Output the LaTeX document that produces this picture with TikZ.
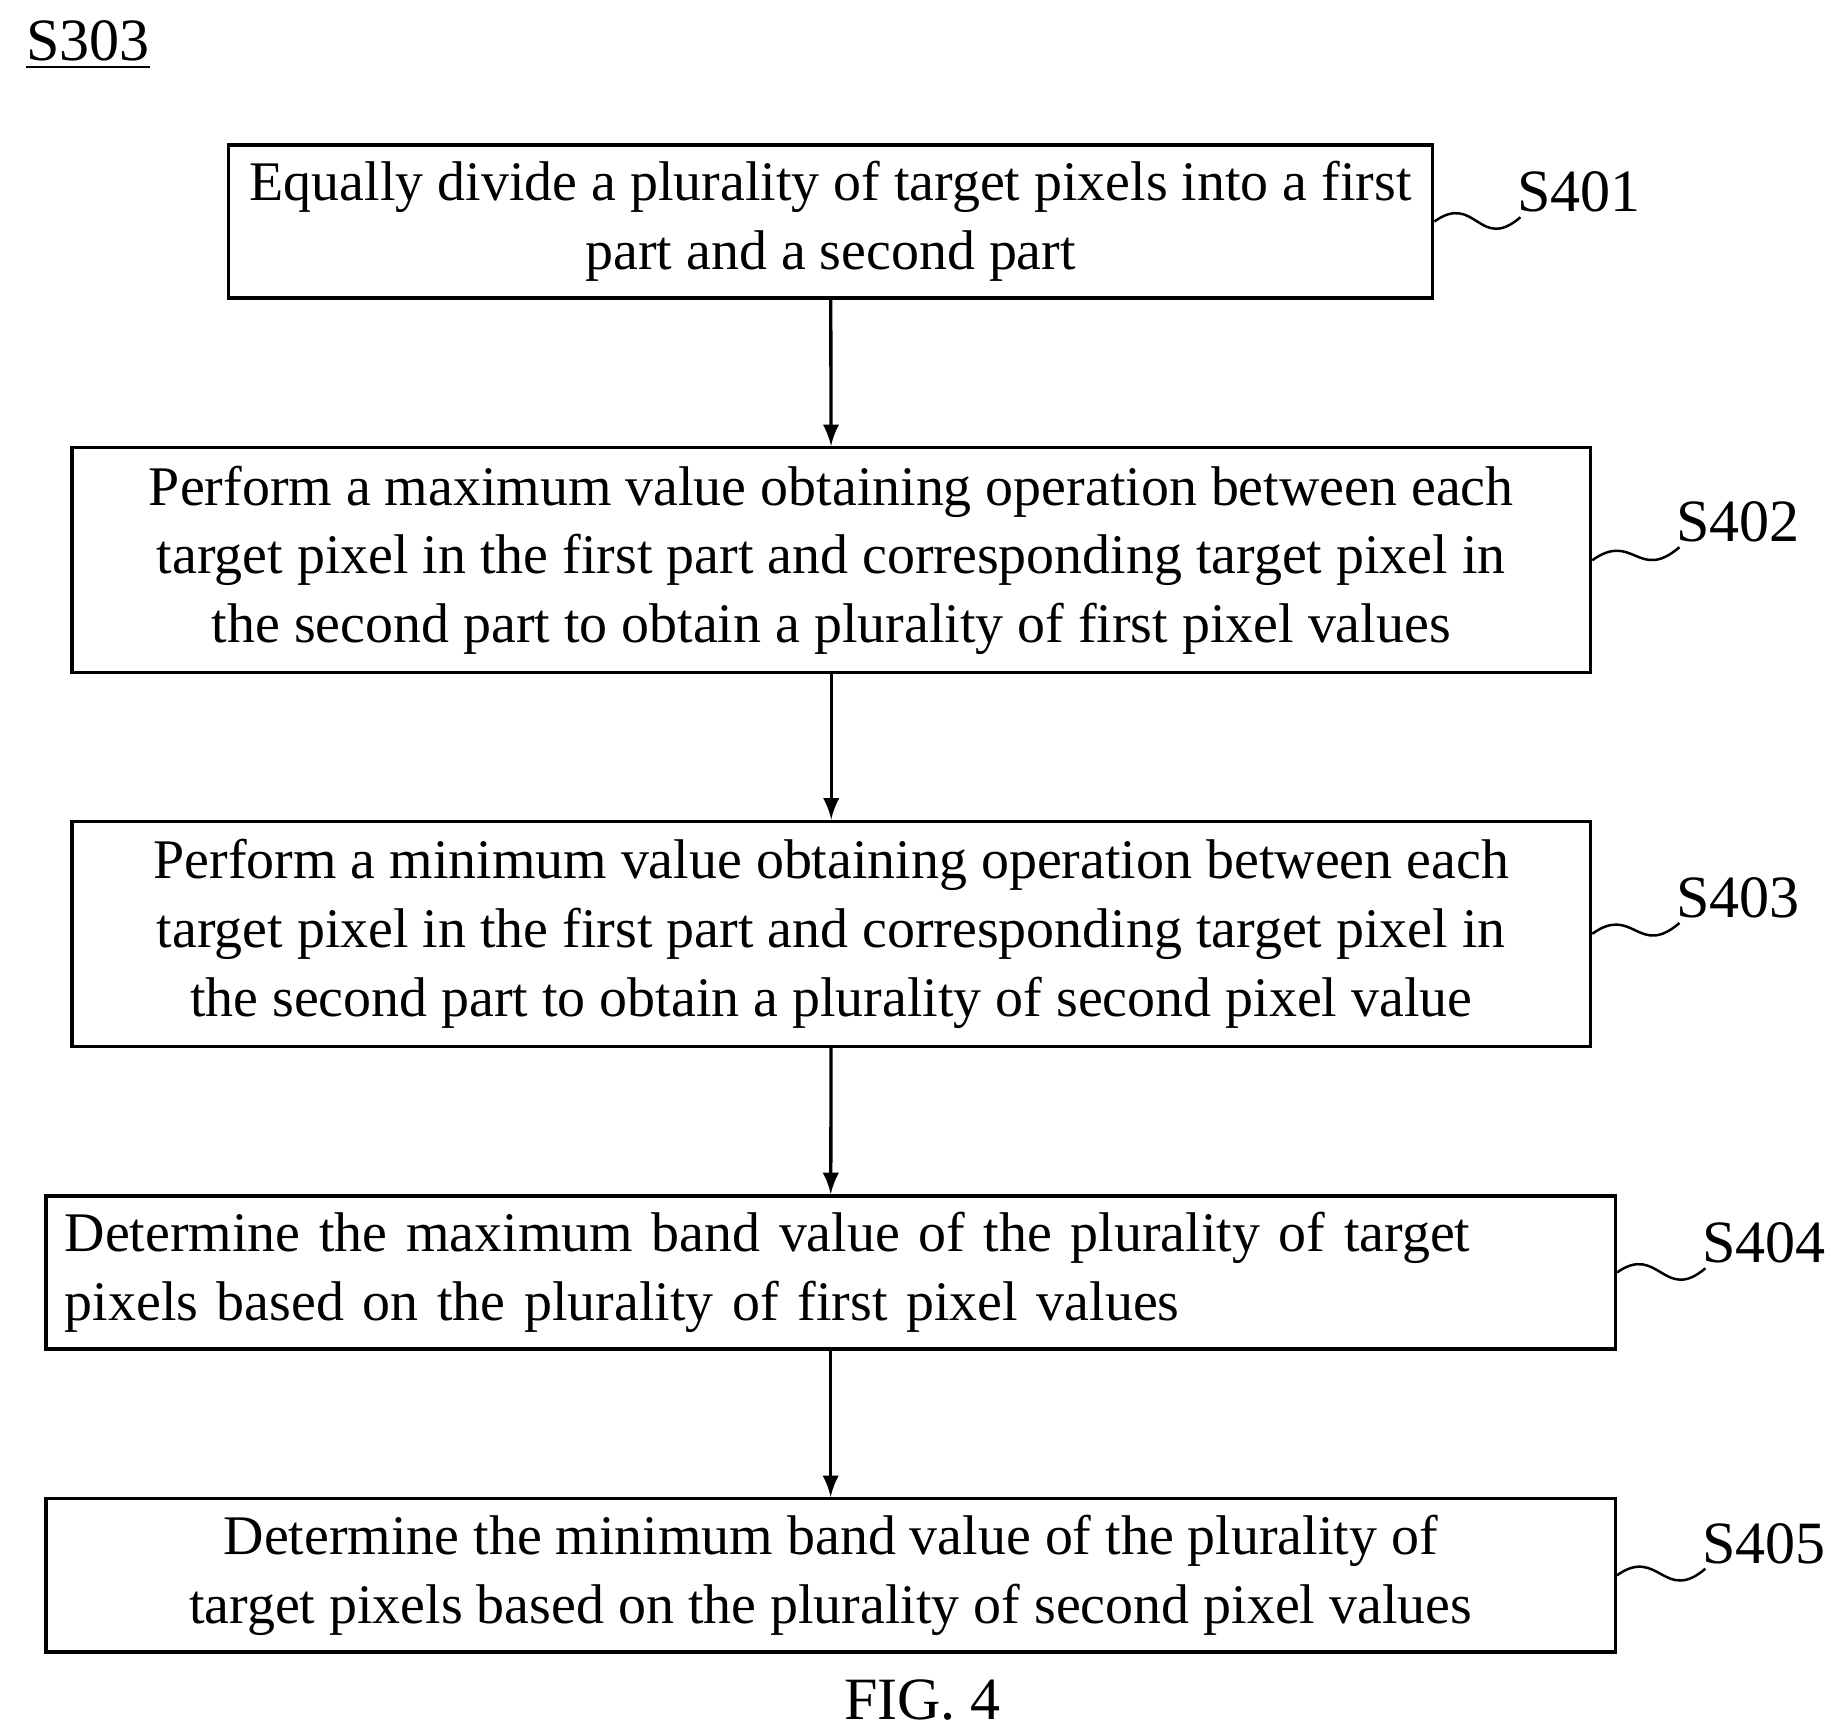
\documentclass[tikz,border=0pt]{standalone}
\usepackage{fontspec}
\setmainfont{Liberation Serif}
\usetikzlibrary{positioning}
\tikzset{
  stepbox/.style={draw, line width=0.8pt, inner sep=0pt, font=\fontsize{13.5}{16.6}\selectfont},
  tag/.style={font=\fontsize{14.5}{16}\selectfont, inner sep=1pt},
  flow/.style={-latex, line width=0.8pt},
  wave/.style={line width=0.6pt}
}
\begin{document}
\begin{tikzpicture}[x=1cm,y=-1cm]
	\useasboundingbox (0,0) rectangle (15.6,14.69);

	% title and caption
	\node[tag, anchor=west] (title) at (0.18,0.38) {\underline{S303}};
	\node[tag] (fig) at (7.83,14.43) {FIG. 4};

	% steps
	\node[stepbox, minimum width=10.22cm, minimum height=1.30cm, align=center] (s1) at (7.05,1.88)
		{Equally divide a plurality of target pixels into a first\\part and a second part};
	\node[stepbox, minimum width=12.89cm, minimum height=1.91cm, align=center] (s2) at (7.055,4.755)
		{Perform a maximum value obtaining operation between each\\target pixel in the first part and corresponding target pixel in\\the second part to obtain a plurality of first pixel values};
	\node[stepbox, minimum width=12.89cm, minimum height=1.91cm, align=center] (s3) at (7.055,7.925)
		{Perform a minimum value obtaining operation between each\\target pixel in the first part and corresponding target pixel in\\the second part to obtain a plurality of second pixel value};
	\node[stepbox, minimum width=13.32cm, minimum height=1.30cm, align=left, text width=13.0cm] (s4) at (7.05,10.80)
		{Determine the maximum band value of the plurality of target\\pixels based on the plurality of first pixel values};
	\node[stepbox, minimum width=13.32cm, minimum height=1.30cm, align=center] (s5) at (7.05,13.37)
		{Determine the minimum band value of the plurality of\\target pixels based on the plurality of second pixel values};

	% arrows
	\draw[flow] (s1) -- (s2);
	\draw[flow] (s2) -- (s3);
	\draw[flow] (s3) -- (s4);
	\draw[flow] (s4) -- (s5);

	% step tags
	\node[tag] (l1) at (13.40,1.63) {S401};
	\node[tag] (l2) at (14.75,4.43) {S402};
	\node[tag] (l3) at (14.75,7.62) {S403};
	\node[tag] (l4) at (14.97,10.55) {S404};
	\node[tag] (l5) at (14.97,13.10) {S405};
	\foreach \i in {1,...,5}
		\draw[wave] (s\i.east) .. controls +(0.35,-0.25) and +(-0.35,0.3) .. ([xshift=2pt]l\i.south west);
\end{tikzpicture}
\end{document}
